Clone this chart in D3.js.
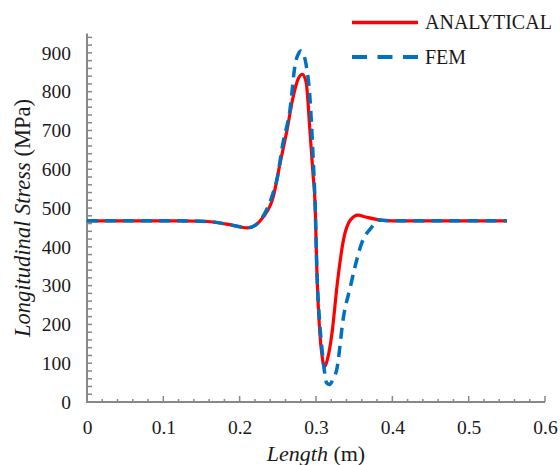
<!DOCTYPE html>
<html>
<head>
<meta charset="utf-8">
<script src="https://cdn.jsdelivr.net/npm/d3@7"></script>
<style>
  html, body { margin: 0; padding: 0; background: #fff; }
  svg { display: block; }
</style>
</head>
<body>
<svg id="chart" width="560" height="465"></svg>
<script>
// Position along the member (m) and longitudinal stress (MPa)
const analyticalX = [0, 0.05, 0.10, 0.122, 0.15, 0.165, 0.19, 0.21, 0.22, 0.231, 0.244, 0.253, 0.262, 0.270, 0.276, 0.282, 0.287, 0.292, 0.296, 0.299, 0.301, 0.305, 0.308, 0.311, 0.315, 0.321, 0.328, 0.336, 0.345, 0.355, 0.365, 0.384, 0.40, 0.45, 0.50, 0.55];
const analyticalY = [467, 467, 467, 467, 466, 464, 456, 449, 455, 477, 529, 616, 701, 786, 830, 845, 825, 701, 590, 500, 348, 178, 118, 90, 110, 178, 307, 418, 469, 482, 477, 469, 467, 467, 467, 467];

const femX = [0, 0.05, 0.10, 0.122, 0.15, 0.165, 0.19, 0.21, 0.22, 0.231, 0.244, 0.249, 0.256, 0.266, 0.273, 0.277, 0.280, 0.284, 0.287, 0.292, 0.296, 0.299, 0.301, 0.305, 0.308, 0.311, 0.314, 0.318, 0.322, 0.327, 0.336, 0.345, 0.351, 0.360, 0.373, 0.382, 0.39, 0.40, 0.45, 0.50, 0.55];
const femY = [467, 467, 467, 467, 466, 464, 456, 449, 455, 480, 540, 575, 660, 755, 874, 898, 905, 895, 870, 786, 640, 500, 348, 200, 134, 80, 49, 45, 58, 82, 219, 297, 348, 410, 451, 469, 468, 467, 467, 467, 467];

const xTicks = [0, 0.1, 0.2, 0.3, 0.4, 0.5, 0.6];
const yTicks = [0, 100, 200, 300, 400, 500, 600, 700, 800, 900];
const seriesNames = ["ANALYTICAL", "FEM"];

const FONT = "'Liberation Serif', 'Times New Roman', serif";
const TEXT = "#1a1a1a";
const svg = d3.select("#chart");
const axisColor = "#888888";

const x = d3.scaleLinear().domain([0, 0.6]).range([87, 545]);
const y = d3.scaleLinear().domain([0, 950]).range([402, 33.5]);

// minor ticks drawn inside the plot area
const xMinor = d3.range(0, 0.6001, 0.02);
const yMinor = d3.range(0, 941, 20);

const grid = svg.append("g");
grid.selectAll("line.xm").data(xMinor).enter().append("line")
  .attr("x1", d => x(d)).attr("x2", d => x(d))
  .attr("y1", y(0)).attr("y2", (d, i) => y(0) - (i % 5 === 0 ? 6 : 3))
  .attr("stroke", axisColor).attr("stroke-width", 1.5);
grid.selectAll("line.ym").data(yMinor).enter().append("line")
  .attr("y1", d => y(d)).attr("y2", d => y(d))
  .attr("x1", x(0)).attr("x2", x(0) + 5)
  .attr("stroke", axisColor).attr("stroke-width", 1.5);

// axes
const xAxis = d3.axisBottom(x).tickValues(xTicks).tickSize(0).tickPadding(18)
  .tickFormat(d => d === 0 ? "0" : d3.format(".1f")(d));
const gx = svg.append("g").attr("transform", `translate(0,${y(0)})`).call(xAxis)
  .attr("font-family", FONT).attr("font-size", 19.5);
gx.select(".domain").attr("stroke", axisColor).attr("stroke-width", 2)
  .attr("d", `M${x(0) - 1},0H${x(0.6)}`);
gx.selectAll("text").attr("fill", TEXT).attr("font-family", FONT).style("font-family", FONT);

const yAxis = d3.axisLeft(y).tickValues(yTicks).tickSize(0).tickPadding(16);
const gy = svg.append("g").attr("transform", `translate(${x(0)},0)`).call(yAxis)
  .attr("font-family", FONT).attr("font-size", 19.5);
gy.select(".domain").attr("stroke", axisColor).attr("stroke-width", 2)
  .attr("d", `M0,${y(950)}V${y(0) + 1}`);
gy.selectAll("text").attr("fill", TEXT).attr("font-family", FONT).style("font-family", FONT);

// axis titles
const xt = svg.append("text").attr("x", 316).attr("y", 461)
  .attr("text-anchor", "middle").attr("font-family", FONT).style("font-family", FONT)
  .attr("font-size", 22).attr("fill", TEXT);
xt.append("tspan").attr("font-style", "italic").text("Length");
xt.append("tspan").text(" (m)");

const yt = svg.append("text")
  .attr("transform", "translate(30,218) rotate(-90)")
  .attr("text-anchor", "middle").attr("font-family", FONT).style("font-family", FONT)
  .attr("font-size", 22.5).attr("fill", TEXT);
yt.append("tspan").attr("font-style", "italic").text("Longitudinal Stress");
yt.append("tspan").text(" (MPa)");

// curves
const line = d3.line().x(d => x(d[0])).y(d => y(d[1])).curve(d3.curveMonotoneX);
const analytical = analyticalX.map((v, i) => [v, analyticalY[i]]);
const fem = femX.map((v, i) => [v, femY[i]]);

svg.append("path").datum(analytical).attr("d", line)
  .attr("fill", "none").attr("stroke", "#FF0000").attr("stroke-width", 3.2)
  .attr("stroke-linejoin", "round");
svg.append("path").datum(fem).attr("d", line)
  .attr("fill", "none").attr("stroke", "#0070C0").attr("stroke-width", 3.5)
  .attr("stroke-dasharray", "11,7").attr("stroke-linejoin", "round");

// legend
const legend = svg.append("g");
legend.append("line").attr("x1", 352).attr("x2", 418).attr("y1", 22.5).attr("y2", 22.5)
  .attr("stroke", "#FF0000").attr("stroke-width", 3.5);
legend.append("line").attr("x1", 352).attr("x2", 418).attr("y1", 57).attr("y2", 57)
  .attr("stroke", "#0070C0").attr("stroke-width", 4).attr("stroke-dasharray", "15,10.5");
legend.selectAll("text.lg").data(seriesNames).enter().append("text")
  .attr("x", 425).attr("y", (d, i) => 29 + i * 34.5)
  .attr("font-family", FONT).style("font-family", FONT)
  .attr("font-size", 20).attr("fill", TEXT).text(d => d);
</script>
</body>
</html>
